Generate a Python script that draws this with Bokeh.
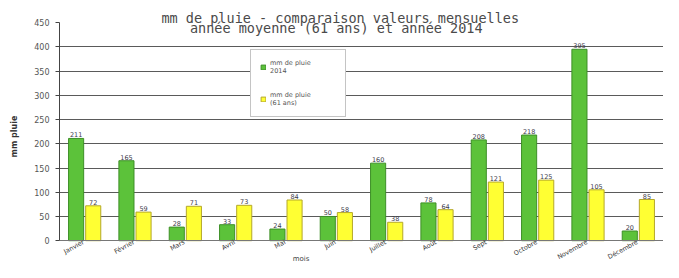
import numpy as np
from bokeh.plotting import figure
from bokeh.models import ColumnDataSource, Range1d, FixedTicker, Label, Legend, LegendItem
from bokeh.transform import dodge
from bokeh.embed import file_html
from bokeh.resources import INLINE
from bokeh.core.properties import value

months = ["Janvier", "Février", "Mars", "Avril", "Mai", "Juin", "Juillet",
          "Août", "Sept", "Octobre", "Novembre", "Décembre"]
rain_2014 = [211, 165, 28, 33, 24, 50, 160, 78, 208, 218, 395, 20]
rain_avg = [72, 59, 71, 73, 84, 58, 38, 64, 121, 125, 105, 85]
y_ticks = [0, 50, 100, 150, 200, 250, 300, 350, 400, 450]
title_lines = ["mm de pluie  -  comparaison valeurs mensuelles",
               "année moyenne (61 ans)  et  année  2014"]
series_labels = ["mm de pluie\n2014", "mm de pluie\n(61 ans)"]
x_label = "mois"
y_label = "mm pluie"

FONT = "DejaVu Sans"
x = list(range(len(months)))
src = ColumnDataSource(dict(
    x=x, g=rain_2014, a=rain_avg,
    gl=[str(v) for v in rain_2014], al=[str(v) for v in rain_avg]))

p = figure(width=663, height=262, output_backend="svg", toolbar_location=None,
           x_range=Range1d(-0.5, 11.5), y_range=Range1d(-45, 475),
           min_border_left=59, min_border_right=0, min_border_top=10,
           min_border_bottom=0)
p.outline_line_color = None
p.background_fill_color = "white"
p.xgrid.visible = False
p.ygrid.ticker = FixedTicker(ticks=y_ticks[:-1])
p.ygrid.grid_line_color = "#5a5a5a"
p.ygrid.grid_line_width = 1

gb = p.vbar(x=dodge("x", -0.17), top="g", width=0.3, source=src,
            fill_color="#5cc23a", line_color="#3d8f27", line_width=1)
ab = p.vbar(x=dodge("x", 0.17), top="a", width=0.3, source=src,
            fill_color="#ffff33", line_color="#b5a82a", line_width=1)

p.text(x=dodge("x", -0.17), y="g", text="gl", source=src, text_align="center",
       text_baseline="bottom", y_offset=-1, text_font_size="6.5px",
       text_color="#3a3a4a", text_font=value(FONT))
p.text(x=dodge("x", 0.17), y="a", text="al", source=src, text_align="center",
       text_baseline="bottom", y_offset=-1, text_font_size="6.5px",
       text_color="#3a3a4a", text_font=value(FONT))

# y axis
ya = p.yaxis[0]
ya.ticker = FixedTicker(ticks=y_ticks)
ya.bounds = (0, 450)
ya.major_tick_out = 4
ya.major_tick_in = 0
ya.minor_tick_line_color = None
ya.axis_line_color = "#444444"
ya.major_tick_line_color = "#444444"
ya.major_label_text_font_size = "8px"
ya.major_label_text_color = "#555555"
ya.major_label_text_font = FONT
ya.major_label_standoff = 6
ya.axis_label = y_label
ya.axis_label_text_font_size = "8px"
ya.axis_label_text_font_style = "bold"
ya.axis_label_text_font = FONT
ya.axis_label_text_color = "#333333"
ya.axis_label_standoff = 12

# x axis sits on y = 0, month labels slanted beneath the bars
xa = p.xaxis[0]
xa.fixed_location = 0
xa.ticker = FixedTicker(ticks=[i - 0.02 for i in x])
xa.major_label_overrides = {i - 0.02: m for i, m in zip(x, months)}
xa.major_label_orientation = 0.5
xa.major_tick_line_color = None
xa.major_tick_out = 0
xa.major_tick_in = 0
xa.minor_tick_line_color = None
xa.axis_line_color = "#777777"
xa.major_label_text_font_size = "6.4px"
xa.major_label_text_font = FONT
xa.major_label_text_color = "#333333"
xa.major_label_standoff = 1

# x axis title
p.add_layout(Label(x=4.3, y=-38, text=x_label, text_align="center",
                   text_baseline="middle", text_font_size="7px",
                   text_font=FONT, text_color="#444444"))

# chart title
for txt, yy in zip(title_lines, [460, 438]):
    p.add_layout(Label(x=5.24, y=yy, text=txt, text_align="center",
                       text_baseline="middle", text_font_size="13.5px",
                       text_font="DejaVu Sans Mono", text_color="#4a4a4a"))

legend = Legend(items=[LegendItem(label=series_labels[0], renderers=[gb]),
                       LegendItem(label=series_labels[1], renderers=[ab])],
                location=(191, 145), padding=9, spacing=16, margin=0,
                glyph_width=6, glyph_height=6, label_standoff=4,
                label_width=66, label_text_font_size="6.5px",
                label_text_font=FONT, label_text_color="#555555",
                border_line_color="#8a8a8a", background_fill_color="white",
                background_fill_alpha=1)
p.add_layout(legend)

open("out.html", "w").write(file_html(p, INLINE))
